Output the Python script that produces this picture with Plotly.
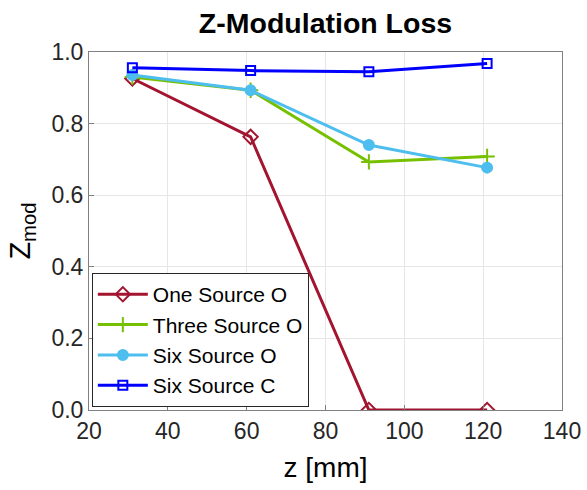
import plotly.graph_objects as go

z_mm = [31, 61, 91, 121]
one_source_o = [0.926, 0.763, 0.0, 0.0]
three_source_o = [0.930, 0.893, 0.693, 0.708]
six_source_o = [0.936, 0.893, 0.740, 0.677]
six_source_c = [0.956, 0.948, 0.945, 0.968]

series = [
    ("One Source O", one_source_o, "#A2142F", "diamond-open", 11),
    ("Three Source O", three_source_o, "#77C000", "cross-thin-open", 11),
    ("Six Source O", six_source_o, "#4DBEEE", "circle", 10),
    ("Six Source C", six_source_c, "#0000FF", "square-open", 9),
]

FONT = "Liberation Sans, Arial"

fig = go.Figure()
for name, vals, color, sym, size in series:
    fig.add_trace(go.Scatter(
        x=z_mm, y=vals, name=name, mode="lines+markers",
        line=dict(color=color, width=3),
        marker=dict(symbol=sym, size=size, color=color,
                    line=dict(color=color, width=2)),
    ))

axis_common = dict(
    showline=True, linecolor="#808080", linewidth=1, mirror=True,
    showgrid=True, gridcolor="#E6E6E6", gridwidth=1,
    ticks="inside", ticklen=5, tickcolor="#808080",
    tickfont=dict(family=FONT, size=23, color="#262626"),
    zeroline=False, automargin=False,
)

fig.update_layout(
    width=587, height=490,
    margin=dict(l=89, r=25, t=52, b=80),
    paper_bgcolor="white", plot_bgcolor="white",
    title=dict(text="<b>Z-Modulation Loss</b>", x=(89 + 562) / 2 / 587, xanchor="center",
               y=1 - 23 / 490, yanchor="middle",
               font=dict(family=FONT, size=28.5, color="black")),
    xaxis=dict(range=[20, 140], tickvals=[20, 40, 60, 80, 100, 120, 140],
               title=dict(text="z [mm]", font=dict(family=FONT, size=28, color="black"), standoff=14),
               **axis_common),
    yaxis=dict(range=[0, 1], tickvals=[0, 0.2, 0.4, 0.6, 0.8, 1.0], tickformat=".1f",
               title=dict(text="Z<sub>mod</sub>", font=dict(family=FONT, size=29, color="black"), standoff=12),
               **axis_common),
    legend=dict(x=0.006, y=0.008, xanchor="left", yanchor="bottom",
                bgcolor="white", bordercolor="#262626", borderwidth=1,
                font=dict(family=FONT, size=21, color="black"),
                tracegroupgap=0, itemwidth=50),
    showlegend=True,
)

fig.write_html("out.html")
